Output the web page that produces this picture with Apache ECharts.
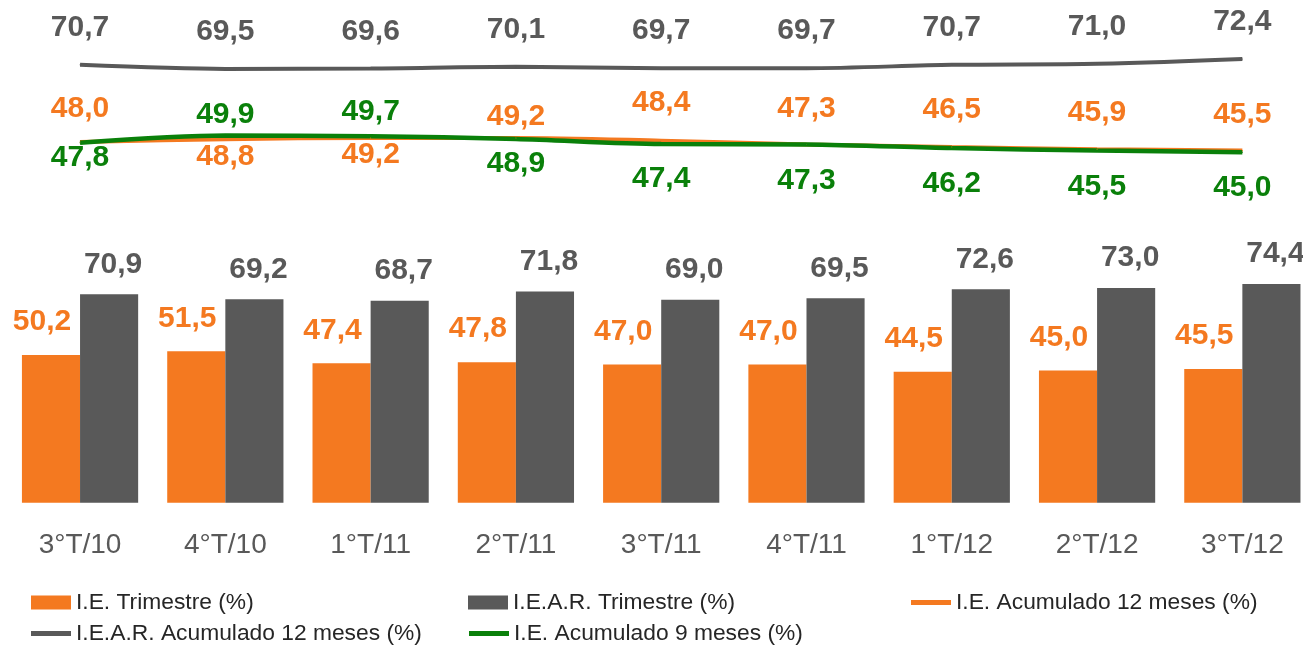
<!DOCTYPE html>
<html>
<head>
<meta charset="utf-8">
<script src="https://cdn.jsdelivr.net/npm/echarts@6/dist/echarts.min.js"></script>
<style>
  html, body { margin: 0; padding: 0; background: #fff; overflow: hidden; }
  /* a bit wider than the window: the last gray bar is cut at the right edge in the original */
  #chart { width: 1315px; height: 645px; }
</style>
</head>
<body>
<div id="chart"></div>
<script>
// quarters
const categories = ['3°T/10', '4°T/10', '1°T/11', '2°T/11', '3°T/11', '4°T/11', '1°T/12', '2°T/12', '3°T/12']
// bars
const ieTrimestre = [50.2, 51.5, 47.4, 47.8, 47.0, 47.0, 44.5, 45.0, 45.5]
const iearTrimestre = [70.9, 69.2, 68.7, 71.8, 69.0, 69.5, 72.6, 73.0, 74.4]
// lines
const ieAcum12 = [48.0, 48.8, 49.2, 49.2, 48.4, 47.3, 46.5, 45.9, 45.5]
const iearAcum12 = [70.7, 69.5, 69.6, 70.1, 69.7, 69.7, 70.7, 71.0, 72.4]
const ieAcum9 = [47.8, 49.9, 49.7, 48.9, 47.4, 47.3, 46.2, 45.5, 45.0]

// label shifts (px) for the line labels, like the manual placement in the original
const orangeDy = [-33, 17, 17, -21, -38, -36, -37, -36, -36]
const greenDy = [15, -21, -24, 25, 35, 36, 36, 36, 36]
const grayDy = -37

const ORANGE = '#F47920'
const GRAY = '#595959'
const GREEN = '#0A800A'
const FONT = '"Liberation Sans", Arial, sans-serif'

const fmt = (v) => v.toFixed(1).replace('.', ',')

const lineData = (vals, dy) => vals.map((v, i) => ({
  value: v,
  label: { offset: [0, Array.isArray(dy) ? dy[i] : dy] }
}))

const lineSeries = (name, vals, color, dy, width) => ({
  name: name,
  type: 'line',
  xAxisIndex: 0,
  yAxisIndex: 0,
  data: lineData(vals, dy),
  smooth: 0.3,
  symbol: 'circle',
  symbolSize: 1,
  lineStyle: { color: color, width: width },
  itemStyle: { color: color },
  label: {
    show: true,
    position: 'inside',
    align: 'center',
    verticalAlign: 'middle',
    color: color,
    fontFamily: FONT,
    fontWeight: 'bold',
    fontSize: 30,
    formatter: (p) => fmt(p.value)
  },
  emphasis: { disabled: true },
  z: 3
})

const legendItem = (name, left, top, icon, h) => ({
  data: [{ name: name, icon: icon }],
  left: left,
  top: top,
  itemWidth: 40,
  itemHeight: h,
  padding: 0,
  selectedMode: false,
  textStyle: { fontFamily: FONT, fontSize: 22.8, color: '#262626' }
})

const myChart = echarts.init(document.getElementById('chart'))
const option = {
  animation: false,
  backgroundColor: '#fff',
  grid: [
    { left: 7.4, right: 0, top: 46.8, height: 122.4 },
    { left: 7.4, right: 0, top: 267.5, height: 235.2 }
  ],
  xAxis: [
    { type: 'category', gridIndex: 0, data: categories, show: false },
    {
      type: 'category',
      gridIndex: 1,
      data: categories,
      axisLine: { show: false },
      axisTick: { show: false },
      axisLabel: { color: GRAY, fontFamily: FONT, fontSize: 28, margin: 29 }
    }
  ],
  yAxis: [
    { type: 'value', gridIndex: 0, min: 40, max: 76, show: false },
    { type: 'value', gridIndex: 1, min: 0, max: 80, show: false }
  ],
  legend: [
    legendItem('I.E. Trimestre (%)', 31, 591, 'rect', 14),
    legendItem('I.E.A.R. Trimestre (%)', 468, 591, 'rect', 14),
    legendItem('I.E. Acumulado 12 meses (%)', 911, 591, 'rect', 5),
    legendItem('I.E.A.R. Acumulado 12 meses (%)', 31, 622, 'rect', 5),
    legendItem('I.E. Acumulado 9 meses (%)', 469, 622, 'rect', 5)
  ],
  series: [
    {
      name: 'I.E. Trimestre (%)',
      type: 'bar',
      xAxisIndex: 1,
      yAxisIndex: 1,
      data: ieTrimestre,
      barGap: '0%',
      barCategoryGap: '20%',
      itemStyle: { color: ORANGE },
      label: {
        show: true,
        position: 'top',
        distance: 33,
        verticalAlign: 'middle',
        offset: [-9, 0],
        color: ORANGE,
        fontFamily: FONT,
        fontWeight: 'bold',
        fontSize: 30,
        formatter: (p) => fmt(p.value)
      }
    },
    {
      name: 'I.E.A.R. Trimestre (%)',
      type: 'bar',
      xAxisIndex: 1,
      yAxisIndex: 1,
      data: iearTrimestre,
      barGap: '0%',
      barCategoryGap: '20%',
      itemStyle: { color: GRAY },
      label: {
        show: true,
        position: 'top',
        distance: 30,
        verticalAlign: 'middle',
        offset: [4, 0],
        color: GRAY,
        fontFamily: FONT,
        fontWeight: 'bold',
        fontSize: 30,
        formatter: (p) => fmt(p.value)
      }
    },
    lineSeries('I.E. Acumulado 12 meses (%)', ieAcum12, ORANGE, orangeDy, 4),
    lineSeries('I.E.A.R. Acumulado 12 meses (%)', iearAcum12, GRAY, grayDy, 4),
    lineSeries('I.E. Acumulado 9 meses (%)', ieAcum9, GREEN, greenDy, 4.5)
  ]
}
myChart.setOption(option)
window.addEventListener('resize', () => {
  myChart.resize()
})
</script>
</body>
</html>
